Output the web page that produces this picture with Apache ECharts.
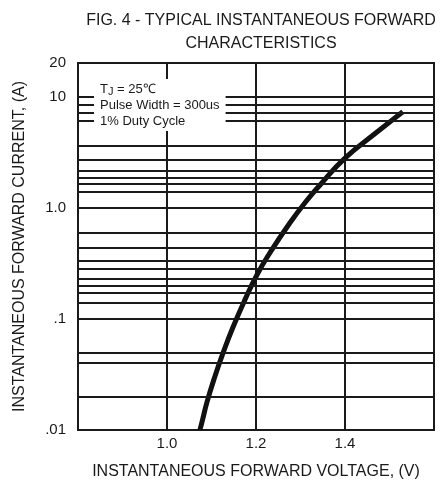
<!DOCTYPE html>
<html><head><meta charset="utf-8">
<script src="https://cdn.jsdelivr.net/npm/echarts@6/dist/echarts.min.js"></script>
<style>html,body{margin:0;padding:0;background:#fff}#c{width:440px;height:486px}</style>
</head><body><div id="c"></div>
<script>
// Curve (V, A)
const voltage = [1.074, 1.080, 1.090, 1.108, 1.126, 1.148, 1.175, 1.202, 1.231, 1.276, 1.315, 1.344, 1.400, 1.472, 1.530];
const current = [0.0100, 0.0124, 0.0179, 0.0306, 0.0493, 0.0835, 0.148, 0.248, 0.391, 0.727, 1.17, 1.60, 2.79, 4.79, 7.3];
// Extra horizontal grid lines drawn in the reference (A)
const minorGridValues = [0.019, 0.0239, 0.0361, 0.0513,
  0.136, 0.167, 0.201, 0.233, 0.275, 0.331, 0.442, 0.604,
  1.38, 1.63, 1.85, 2.13, 2.68, 3.58, 6.01, 7.09, 8.37];
const yTickValues = [0.01, 0.1, 1, 10, 20];
const yTickLabels = ['.01', '.1', '1.0', '10', '20'];
const xTickValues = [1.0, 1.2, 1.4];
const xTickLabels = ['1.0', '1.2', '1.4'];
const titleLines = ['FIG. 4 - TYPICAL INSTANTANEOUS FORWARD', 'CHARACTERISTICS'];
const xAxisName = 'INSTANTANEOUS FORWARD VOLTAGE, (V)';
const yAxisName = 'INSTANTANEOUS FORWARD CURRENT, (A)';
const conditionLines = ['{t|T}{s|J}{t| = 25\u2103}', '{t|Pulse Width = 300us}', '{t|1% Duty Cycle}'];

const FONT = '"Liberation Sans Narrow","Liberation Sans",Arial,sans-serif';
const INK = '#1a1a1a';

const chart = echarts.init(document.getElementById('c'), null, {renderer: 'canvas'});
chart.setOption({
  backgroundColor: '#fff',
  animation: false,
  title: [
    {
      text: titleLines.join('\n'),
      left: 256, top: 4, textAlign: 'center',
      textStyle: {fontFamily: FONT, fontSize: 16, fontWeight: 'normal', color: INK, lineHeight: 23}
    },
    {
      text: conditionLines.join('\n'),
      left: 94, top: 79,
      backgroundColor: '#fff',
      padding: [2, 6, 2, 6],
      z: 10,
      textStyle: {
        fontFamily: FONT, fontSize: 13, fontWeight: 'normal', color: INK, lineHeight: 16,
        rich: {
          t: {fontFamily: FONT, fontSize: 13, color: INK, lineHeight: 16},
          s: {fontFamily: FONT, fontSize: 11, color: INK, verticalAlign: 'bottom', lineHeight: 16}
        }
      }
    }
  ],
  grid: {left: 78, right: 6, top: 63, bottom: 56, show: true, borderColor: INK, borderWidth: 2, backgroundColor: 'transparent'},
  xAxis: {
    type: 'value', min: 0.8, max: 1.6, interval: 0.2,
    name: xAxisName, nameLocation: 'middle', nameGap: 34,
    nameTextStyle: {fontFamily: FONT, fontSize: 16, color: INK},
    axisLine: {show: false}, axisTick: {show: false},
    axisLabel: {
      showMinLabel: false, showMaxLabel: false, margin: 6,
      fontFamily: FONT, fontSize: 15, color: INK,
      formatter: v => {
        const i = xTickValues.findIndex(t => Math.abs(t - v) < 1e-6);
        return i >= 0 ? xTickLabels[i] : '';
      }
    },
    splitLine: {show: true, lineStyle: {color: INK, width: 2}}
  },
  yAxis: {
    type: 'log', logBase: 10, min: 0.01, max: 20,
    name: yAxisName, nameLocation: 'middle', nameGap: 50, nameRotate: 90,
    nameTextStyle: {fontFamily: FONT, fontSize: 16, color: INK},
    axisLine: {show: false}, axisTick: {show: false},
    axisLabel: {
      showMinLabel: true, showMaxLabel: true, margin: 12,
      fontFamily: FONT, fontSize: 15, color: INK,
      formatter: v => {
        let best = 0, bd = Infinity;
        yTickValues.forEach((t, i) => { const d = Math.abs(Math.log10(t) - Math.log10(v)); if (d < bd) { bd = d; best = i; } });
        return bd < 0.01 ? yTickLabels[best] : '';
      }
    },
    splitLine: {show: true, lineStyle: {color: INK, width: 2}}
  },
  series: [{
    type: 'line',
    data: voltage.map((v, i) => [v, current[i]]),
    smooth: 0.5,
    showSymbol: false,
    lineStyle: {color: '#111', width: 5},
    markLine: {
      silent: true, symbol: 'none', animation: false,
      label: {show: false},
      lineStyle: {color: INK, width: 2, type: 'solid'},
      data: minorGridValues.map(v => ({yAxis: v}))
    }
  }]
});
</script></body></html>
